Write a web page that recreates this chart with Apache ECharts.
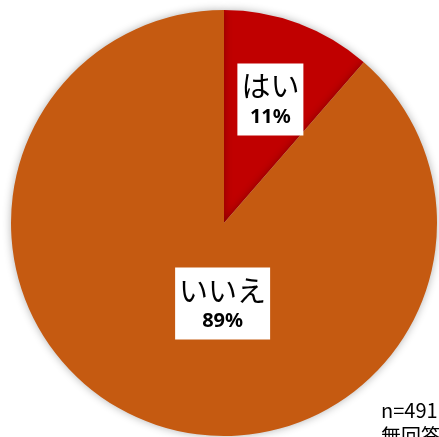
<!DOCTYPE html>
<html><head><meta charset="utf-8">
<script src="https://cdn.jsdelivr.net/npm/echarts@6/dist/echarts.min.js"></script>
<style>html,body{margin:0;padding:0;background:#fff;}#c{width:439px;height:437px;}</style>
</head><body><div id="c"></div>
<script>
const categories = ['はい', 'いいえ'];
const values = [11.4, 88.6];
const colors = ['#C00000', '#C55A11'];
const noteLines = ['n=491', '無回答を除く'];

const chart = echarts.init(document.getElementById('c'));
const offsets = [[8, -21], [37, -22]];
chart.setOption({
  animation: false,
  series: [{
    type: 'pie',
    center: [224, 223],
    radius: [0, 213],
    startAngle: 90,
    clockwise: true,
    data: categories.map((n, i) => ({
      name: n, value: values[i],
      itemStyle: { color: colors[i] },
      label: { offset: offsets[i] }
    })),
    itemStyle: { shadowBlur: 8, shadowColor: 'rgba(0,0,0,0.3)', borderWidth: 0 },
    labelLine: { show: false },
    label: {
      show: true,
      position: 'inside',
      backgroundColor: '#fff',
      padding: [5, 4, 5, 4],
      formatter: p => '{n|' + p.name + '}\n{p|' + Math.round(p.value) + '%}',
      rich: {
        n: { fontSize: 29, color: '#000', fontFamily: 'Noto Sans CJK JP', lineHeight: 36, align: 'center' },
        p: { fontSize: 20, fontWeight: 'bold', color: '#000', fontFamily: 'Noto Sans', lineHeight: 26, align: 'center' }
      }
    },
    emphasis: { disabled: true }
  }],
  graphic: noteLines.map((t, i) => ({
    type: 'text', left: 381, top: 400 + i * 26,
    style: { text: t, fontSize: 20, fill: '#000', fontFamily: 'Noto Sans CJK JP' }
  }))
});
</script></body></html>
